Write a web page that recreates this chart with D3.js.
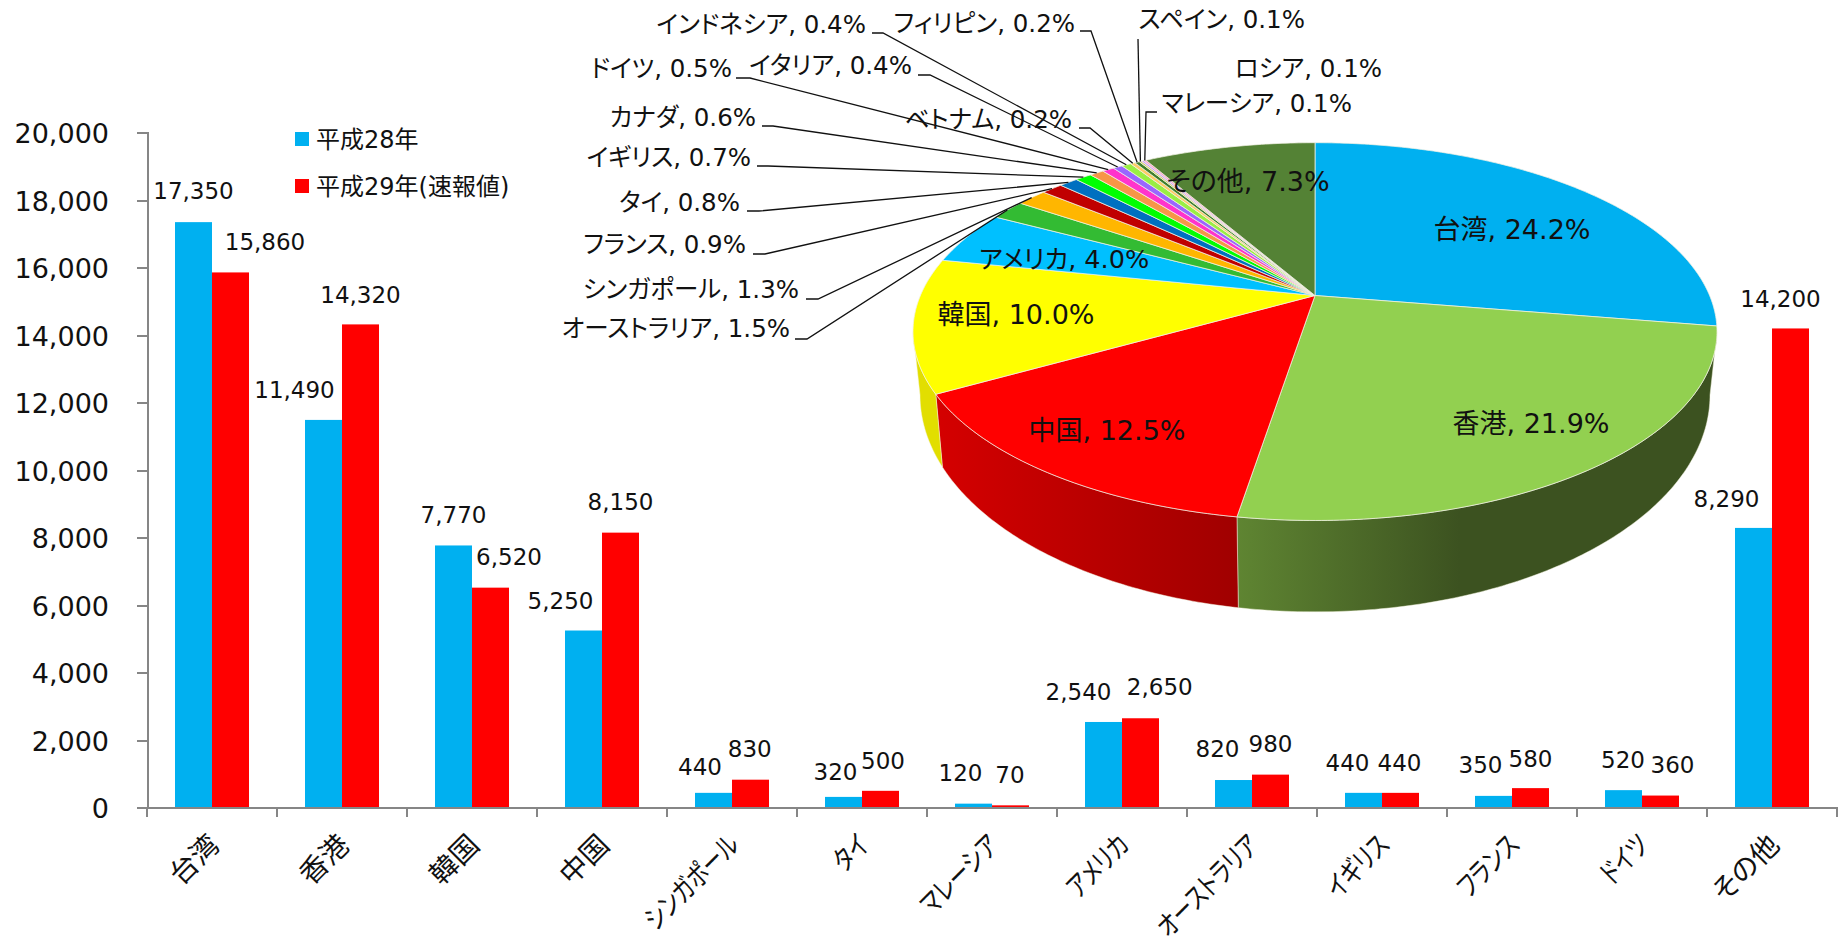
<!DOCTYPE html>
<html>
<head>
<meta charset="utf-8">
<script src="https://cdnjs.cloudflare.com/ajax/libs/d3/7.8.5/d3.min.js"></script>
<style>
html, body { margin: 0; background: #fff; }
svg { display: block; }
text { font-family: "DejaVu Sans", "Noto Sans CJK JP", sans-serif; font-feature-settings: "palt"; fill: #111; }
</style>
</head>
<body>
<svg id="chart" width="1839" height="941"></svg>
<script>
// bar chart data
let categories = ['台湾', '香港', '韓国', '中国', 'シンガポール', 'タイ', 'マレーシア', 'アメリカ', 'オーストラリア', 'イギリス', 'フランス', 'ドイツ', 'その他'];
let seriesNames = ['平成28年', '平成29年(速報値)'];
let h28 = [17350, 11490, 7770, 5250, 440, 320, 120, 2540, 820, 440, 350, 520, 8290];
let h29 = [15860, 14320, 6520, 8150, 830, 500, 70, 2650, 980, 440, 580, 360, 14200];
let yTicks = [0, 2000, 4000, 6000, 8000, 10000, 12000, 14000, 16000, 18000, 20000];

// pie chart data (the labels only add up to 87.6, the pie normalises them)
let pieNames = ['台湾', '香港', '中国', '韓国', 'アメリカ', 'オーストラリア', 'シンガポール', 'フランス', 'タイ', 'イギリス', 'カナダ', 'ドイツ', 'イタリア', 'インドネシア', 'ベトナム', 'フィリピン', 'スペイン', 'ロシア', 'マレーシア', 'その他'];
let pieValues = [24.2, 21.9, 12.5, 10.0, 4.0, 1.5, 1.3, 0.9, 0.8, 0.7, 0.6, 0.5, 0.4, 0.4, 0.2, 0.2, 0.1, 0.1, 0.1, 7.3];
let pieColors = ['#00b0f0', '#92d050', '#ff0000', '#ffff00', '#00c0ff', '#33bb33', '#ffb600', '#c00000', '#0070c0', '#00ff00', '#f79646', '#ff33cc', '#9966ff', '#99ee44', '#ffcc66', '#3e7f2a', '#cccc66', '#cc99ff', '#ff99cc', '#548235'];

// hand placed bar labels, offset from the top of each bar
let h28LabelDx = [0, -29, 0, -23, -13.5, -8, -13, -25, -16, -16, -13, -0.5, -27];
let h28LabelDy = [-31, -30.5, -30.6, -30, -26, -25, -30.6, -30.3, -31, -30.2, -31, -30, -29.5];
let h29LabelDx = [34.5, 0, 18.5, 0, -0.7, 2.5, -0.5, 19.3, 0, -1, 0, 12, -10];
let h29LabelDy = [-31, -30, -30.7, -30.6, -30.7, -30, -30.3, -31.3, -30.6, -30.2, -29, -30.6, -29.4];

// hand placed pie labels: [text x, text y, elbow x0, elbow x1, elbow y], anchor at text end
let pieInside = {
    '台湾': [1512, 229], '香港': [1531, 423], '中国': [1107, 430],
    '韓国': [1016, 314], 'アメリカ': [1064, 259], 'その他': [1248, 181]
};
let pieOutside = {
    'オーストラリア': [790, 328, 795, 807, 339],
    'シンガポール': [799, 289, 806, 818, 299],
    'フランス': [746, 244, 753, 765, 254],
    'タイ': [740, 202, 747, 759, 211],
    'イギリス': [751, 157, 757, 768, 166],
    'カナダ': [756, 117, 762, 773, 126],
    'ドイツ': [732, 68, 736, 750, 78],
    'イタリア': [912, 65, 918, 930, 75],
    'インドネシア': [866, 24, 872, 883, 33],
    'ベトナム': [1072, 119, 1079, 1090, 128],
    'フィリピン': [1075, 23, 1080, 1091, 31],
    'スペイン': [1305, 19, 1138, 1138, 39],
    'ロシア': [1382, 68],
    'マレーシア': [1352, 103, 1157, 1146, 112]
};

let svg = d3.select('#chart');

let x = d3.scaleBand().domain(categories).range([147, 1837]);
let y = d3.scaleLinear().domain([0, 20000]).range([807.7, 132.7]);
let barW = 37;
let fmt = d3.format(',');

// bars
function drawBars(values, color, offset, dxs, dys) {
    let g = svg.append('g');
    g.selectAll('rect')
        .data(values)
        .enter()
        .append('rect')
        .attr('x', function(d, i) { return x(categories[i]) + x.step() / 2 + offset; })
        .attr('y', function(d) { return y(d); })
        .attr('width', barW)
        .attr('height', function(d) { return y(0) - y(d); })
        .attr('fill', color);
    g.selectAll('text')
        .data(values)
        .enter()
        .append('text')
        .attr('x', function(d, i) { return x(categories[i]) + x.step() / 2 + offset + barW / 2 + dxs[i]; })
        .attr('y', function(d, i) { return y(d) + dys[i]; })
        .attr('dy', '.36em')
        .attr('text-anchor', 'middle')
        .style('font-size', '23px')
        .text(function(d) { return fmt(d); });
}
drawBars(h28, '#00b0f0', -barW, h28LabelDx, h28LabelDy);
drawBars(h29, '#ff0000', 0, h29LabelDx, h29LabelDy);

// axes
let yAxis = d3.axisLeft(y).tickValues(yTicks).tickSize(10).tickPadding(28).tickFormat(fmt);
let yG = svg.append('g').attr('transform', 'translate(147,0)').call(yAxis);
yG.selectAll('text').style('font-size', '27px').attr('dy', '.38em');

// kana in the original font is much narrower than Noto, so squeeze those labels
let xAxis = d3.axisBottom(x).tickSize(0);
let xG = svg.append('g').attr('transform', 'translate(0,807.7)').call(xAxis);
xG.selectAll('text')
    .attr('x', 0).attr('y', 0).attr('dy', '.35em')
    .attr('text-anchor', 'end')
    .attr('transform', function(d) {
        let squeeze = /[ァ-ヶ]/.test(d) ? ' scale(0.76,1)' : '';
        return 'translate(2,32) rotate(-45)' + squeeze;
    })
    .style('font-size', '28px');
xG.selectAll('.edge')
    .data(d3.range(categories.length + 1))
    .enter()
    .append('line')
    .attr('class', 'edge')
    .attr('x1', function(i) { return 147 + i * x.step(); })
    .attr('x2', function(i) { return 147 + i * x.step(); })
    .attr('y1', 0).attr('y2', 9);
svg.selectAll('.domain, .tick line, .edge')
    .attr('stroke', '#868686')
    .attr('stroke-width', 2)
    .attr('shape-rendering', 'crispEdges');

// legend
let legend = svg.append('g');
seriesNames.forEach(function(name, i) {
    legend.append('rect')
        .attr('x', 295).attr('y', 132 + i * 47)
        .attr('width', 14).attr('height', 14)
        .attr('fill', i == 0 ? '#00b0f0' : '#ff0000');
    legend.append('text')
        .attr('x', 316).attr('y', 139 + i * 47)
        .attr('dy', '.36em')
        .style('font-size', '24px')
        .text(name);
});

// pie in perspective: the circle is projected, so the apex sits above the ellipse centre
let cx = 1315, cy = 295.5;
let k = 0.191, rx = 394.6, ry = 182;
// top ellipse centre and radii, lower rim ellipse centre and radii
let topCy = 331.6, topRx = 402, topRy = 189;
let lowCy = 395, lowRx = 395, lowRy = 217;
let wallFrom = 101 * Math.PI / 180, wallTo = 259 * Math.PI / 180;

function topPoint(a) {
    let w = 1 + k * Math.cos(a);
    return [cx + rx * Math.sin(a) / w, cy - ry * Math.cos(a) / w];
}
function lowPoint(a) {
    let p = topPoint(a);
    return [cx + (p[0] - cx) / topRx * lowRx, lowCy + (p[1] - topCy) / topRy * lowRy];
}
function arcAngles(a0, a1) {
    let n = Math.max(2, Math.ceil((a1 - a0) * 80));
    return d3.range(n + 1).map(function(i) { return a0 + (a1 - a0) * i / n; });
}

let pie = d3.pie().sort(null).value(function(d) { return d; });
let slices = pie(pieValues);
let line = d3.line();
let pieG = svg.append('g');

// wall shading
let defs = svg.append('defs');
function wallGradient(id, x1, x2, c0, c1) {
    let g = defs.append('linearGradient').attr('id', id)
        .attr('gradientUnits', 'userSpaceOnUse')
        .attr('x1', x1).attr('x2', x2).attr('y1', 0).attr('y2', 0);
    g.append('stop').attr('offset', '0%').attr('stop-color', c0);
    g.append('stop').attr('offset', '100%').attr('stop-color', c1);
}
wallGradient('wall1', 1237, 1460, '#5f8532', '#3c5220');
wallGradient('wall2', 940, 1237, '#d40000', '#a00000');
wallGradient('wall3', 905, 945, '#e2de00', '#e2de00');

slices.forEach(function(s, i) {
    let a0 = Math.max(s.startAngle, wallFrom), a1 = Math.min(s.endAngle, wallTo);
    if (a1 <= a0) return;
    let angles = arcAngles(a0, a1);
    let pts = angles.map(topPoint).concat(angles.slice().reverse().map(lowPoint));
    pieG.append('path')
        .attr('d', line(pts) + 'Z')
        .attr('fill', 'url(#wall' + i + ')')
        .attr('stroke', '#f4f4e0')
        .attr('stroke-opacity', 0.6)
        .attr('stroke-width', 0.8);
});

pieG.selectAll('.face')
    .data(slices)
    .enter()
    .append('path')
    .attr('class', 'face')
    .attr('d', function(s) {
        return line([[cx, cy]].concat(arcAngles(s.startAngle, s.endAngle).map(topPoint))) + 'Z';
    })
    .attr('fill', function(s, i) { return pieColors[i]; })
    .attr('stroke', '#f2f2e6')
    .attr('stroke-opacity', 0.75)
    .attr('stroke-width', 1);

// pie labels and leader lines
slices.forEach(function(s, i) {
    let name = pieNames[i];
    let label = name + ', ' + s.data.toFixed(1) + '%';
    if (pieInside[name]) {
        svg.append('text')
            .attr('x', pieInside[name][0]).attr('y', pieInside[name][1])
            .attr('dy', '.36em')
            .attr('text-anchor', 'middle')
            .style('font-size', /[ァ-ヶ]/.test(name) ? '25.5px' : '27px')
            .text(label);
        return;
    }
    let p = pieOutside[name];
    svg.append('text')
        .attr('x', p[0]).attr('y', p[1])
        .attr('dy', '.36em')
        .attr('text-anchor', 'end')
        .style('font-size', '24.5px')
        .text(label);
    if (p.length > 2) {
        let end = topPoint((s.startAngle + s.endAngle) / 2);
        svg.append('path')
            .attr('d', line([[p[2], p[4]], [p[3], p[4]], end]))
            .attr('fill', 'none')
            .attr('stroke', '#111')
            .attr('stroke-width', 1.3);
    }
});
</script>
</body>
</html>
